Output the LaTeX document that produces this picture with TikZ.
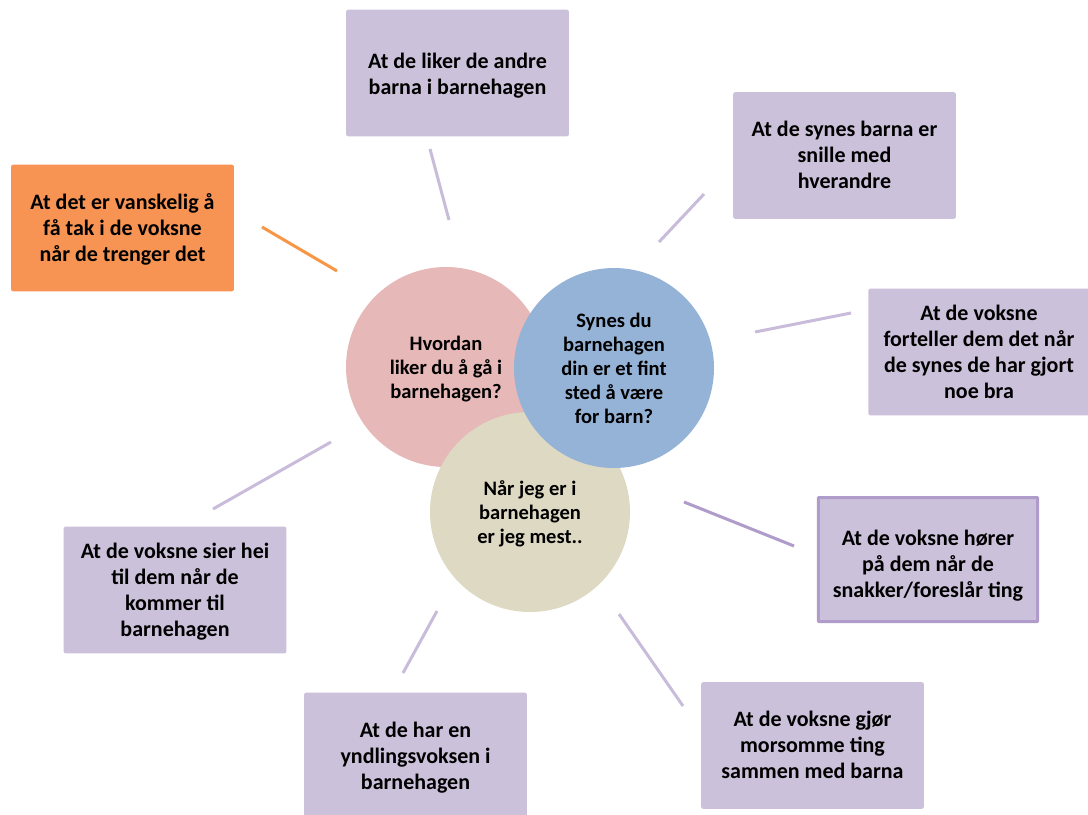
\documentclass[tikz,border=0pt]{standalone}
\usepackage{fontspec}
\setmainfont{Carlito}
\definecolor{boxfill}{HTML}{CCC1DA}
\definecolor{linecol}{HTML}{C8BCDA}
\definecolor{darkline}{HTML}{B09CCA}
\definecolor{orangefill}{HTML}{F79454}
\definecolor{orangeline}{HTML}{F79646}
\definecolor{pinkc}{HTML}{E6B9B8}
\definecolor{bluec}{HTML}{95B3D7}
\definecolor{beigec}{HTML}{DDD9C3}
\newcommand\topst[1][15.5pt]{\rule{0pt}{#1}}
\newcommand\botst{\rule[-5pt]{0pt}{0pt}}
\tikzset{
  boxtxt/.style={font=\bfseries\fontsize{16.5}{19.5}\selectfont, align=center, text=black},
  circtxt/.style={font=\bfseries\fontsize{15.4}{18}\selectfont, align=center, text=black},
  box/.style={boxtxt, rectangle, fill=boxfill, rounded corners=1.5pt, inner sep=0pt,
              minimum width=167pt, minimum height=95pt},
  circ/.style={circtxt, circle, inner sep=0pt, minimum size=150pt},
  conn/.style={line width=2.25pt, draw=linecol},
}
\begin{document}
\begin{tikzpicture}[x=0.75pt,y=-0.75pt]
\useasboundingbox (0,0) rectangle (1088,814);
\clip (0,0) rectangle (1088,814);
% circles
\node[circ, fill=pinkc] (c1) at (446,367) {\topst Hvordan\\liker du å gå i\\barnehagen?\botst};
\node[circ, fill=beigec] (c3) at (530,512) {\topst Når jeg er i\\barnehagen\\er jeg mest..\botst};
\node[circ, fill=bluec] (c2) at (614,368) {\topst Synes du\\barnehagen\\din er et fint\\sted å være\\for barn?\botst};
% boxes
\node[box] (b1) at (457.5,73) {\topst[18pt]At de liker de andre\\barna i barnehagen\botst};
\node[box] (b2) at (844.5,155.5) {\topst At de synes barna er\\snille med\\hverandre\botst};
\node[box, minimum width=166pt] (b3) at (979,352) {\topst At de voksne\\forteller dem det når\\de synes de har gjort\\noe bra\botst};
\node[box, draw=darkline, line width=2.25pt, rounded corners=0.5pt, minimum width=164.5pt, minimum height=93pt] (b4) at (928,559.5) {\topst[22.6pt]At de voksne hører\\på dem når de\\snakker/foreslår ting\botst};
\node[box] (b5) at (812.5,745.5) {\topst At de voksne gjør\\morsomme ting\\sammen med barna\botst};
\node[box] (b6) at (415.5,756) {\topst At de har en\\yndlingsvoksen i\\barnehagen\botst};
\node[box] (b7) at (175,590) {\topst At de voksne sier hei\\til dem når de\\kommer til\\barnehagen\botst};
\node[box, fill=orangefill] (b8) at (122.5,228) {\topst At det er vanskelig å\\få tak i de voksne\\når de trenger det\botst};
% connector end points
\coordinate (l1a) at (430,149); \coordinate (l1b) at (449,220);
\coordinate (l2a) at (704,194); \coordinate (l2b) at (659,242);
\coordinate (l3a) at (851,313); \coordinate (l3b) at (755,332);
\coordinate (l4a) at (684,502); \coordinate (l4b) at (794,546);
\coordinate (l5a) at (619,614); \coordinate (l5b) at (683,706);
\coordinate (l6a) at (437,611); \coordinate (l6b) at (403,673);
\coordinate (l7a) at (331,442); \coordinate (l7b) at (213,509);
\coordinate (l8a) at (262,227); \coordinate (l8b) at (337,271);
\draw[conn] (l1a) -- (l1b);
\draw[conn] (l2a) -- (l2b);
\draw[conn] (l3a) -- (l3b);
\draw[conn, draw=darkline] (l4a) -- (l4b);
\draw[conn] (l5a) -- (l5b);
\draw[conn] (l6a) -- (l6b);
\draw[conn] (l7a) -- (l7b);
\draw[conn, draw=orangeline] (l8a) -- (l8b);
\end{tikzpicture}
\end{document}
